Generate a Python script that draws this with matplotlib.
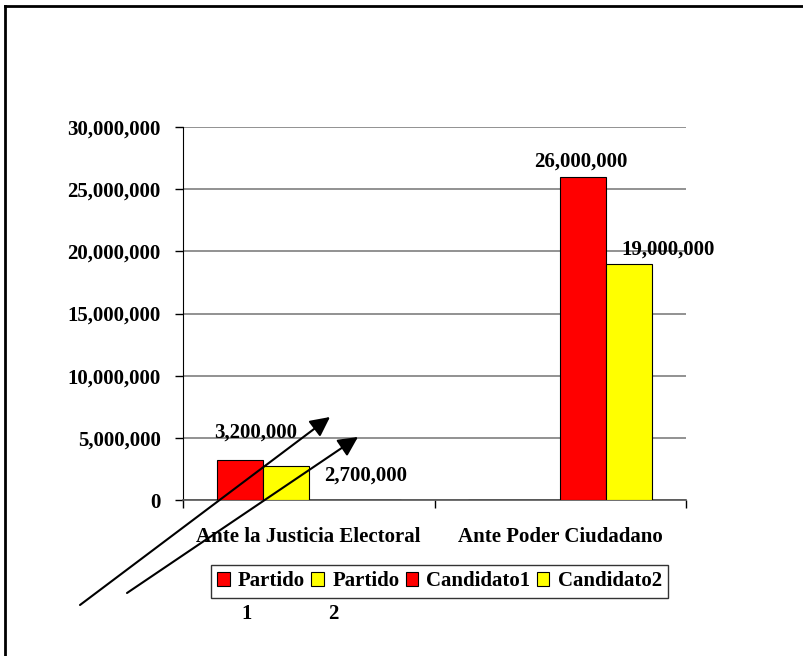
import matplotlib
matplotlib.use("Agg")
import matplotlib.pyplot as plt
from matplotlib.patches import Patch
from matplotlib.lines import Line2D
import numpy as np

categories = ["Ante la Justicia Electoral", "Ante Poder Ciudadano"]
series_names = ["Partido", "Partido", "Candidato1", "Candidato2"]
partido1 = [3200000, 0]
partido2 = [2700000, 0]
candidato1 = [0, 26000000]
candidato2 = [0, 19000000]
series_values = [partido1, partido2, candidato1, candidato2]
series_colors = ["#FF0000", "#FFFF00", "#FF0000", "#FFFF00"]
value_labels = ["3,200,000", "2,700,000", "26,000,000", "19,000,000"]
yticks = [0, 5000000, 10000000, 15000000, 20000000, 25000000, 30000000]

plt.rcParams['font.family'] = ['Liberation Serif', 'DejaVu Serif']
plt.rcParams['font.weight'] = 'bold'
FS = 15

W, H = 804, 656
fig = plt.figure(figsize=(W / 100, H / 100), dpi=100)
ax = fig.add_axes([183 / W, 1 - 500 / H, (686 - 183) / W, (500 - 127) / H])

x = np.arange(len(categories))
w = 0.1833
offsets = [-1.5, -0.5, 0.5, 1.5]
bars = []
for vals, col, off in zip(series_values, series_colors, offsets):
    b = ax.bar(x + off * w, vals, w, color=col, edgecolor="#000000", linewidth=0.8, zorder=3)
    bars.append(b)

ax.set_xlim(-0.5, 1.5)
ax.set_ylim(0, 30000000)
ax.set_yticks(yticks)
ax.set_yticklabels([f"{v:,}" for v in yticks], fontsize=FS, fontweight='bold')
ax.yaxis.grid(True, color="#7f7f7f", linewidth=1.2, zorder=0)
ax.set_axisbelow(True)
ax.tick_params(axis='y', length=6, width=1, pad=10, color="#000000")
ax.set_xticks(x)
ax.set_xticklabels(categories, fontsize=FS, fontweight='bold')
ax.tick_params(axis='x', which='major', length=0, pad=19.5)
ax.set_xticks([-0.5, 0.5, 1.5], minor=True)
ax.tick_params(axis='x', which='minor', length=6, width=1, color="#000000")
for s in ['top', 'right']:
    ax.spines[s].set_visible(False)
ax.spines['left'].set_color("#000000")
ax.spines['bottom'].set_color("#555555")
ax.spines['bottom'].set_linewidth(1.2)

# data labels (offsets in points from bar top)
label_specs = [
    (0, 0, (11.5, 13)),
    (1, 0, (57.5, -14)),
    (2, 1, (-2, 4)),
    (3, 1, (28, 3)),
]
for (si, ci, off), txt in zip(label_specs, value_labels):
    xv = x[ci] + offsets[si] * w
    yv = series_values[si][ci]
    ax.annotate(txt, (xv, yv), xytext=off, textcoords='offset points',
                ha='center', va='bottom', fontsize=FS, fontweight='bold', zorder=5)

# legend
handles = [Patch(facecolor=c, edgecolor="#000000", linewidth=0.8) for c in series_colors]
leg = fig.legend(handles, series_names, loc='upper left',
                 bbox_to_anchor=(211 / W, 1 - 565 / H), ncol=4,
                 prop={'family': 'Liberation Serif', 'weight': 'bold', 'size': FS},
                 frameon=True, fancybox=False, handlelength=0.6, handleheight=0.6,
                 handletextpad=0.4, columnspacing=0.3, borderpad=0.3,
                 borderaxespad=0)
leg.get_frame().set_edgecolor("#000000")
leg.get_frame().set_linewidth(1.0)

fig.text(247 / W, 1 - 614 / H, "1", ha='center', va='center', fontsize=FS, fontweight='bold')
fig.text(333 / W, 1 - 614 / H, "2", ha='center', va='center', fontsize=FS, fontweight='bold')

# arrows
for (x0, y0), (x1, y1) in [((80, 605), (330, 417)), ((127, 593), (358, 437))]:
    fig.add_artist(matplotlib.patches.FancyArrowPatch(
        (x0 / W, 1 - y0 / H), (x1 / W, 1 - y1 / H), transform=fig.transFigure,
        arrowstyle='-|>,head_length=7,head_width=3.5', color='black', linewidth=1.5,
        mutation_scale=1.7, shrinkA=0, shrinkB=0, zorder=10))

# border (top and left)
fig.add_artist(Line2D([5 / W, 5 / W], [0, 1 - 6 / H], transform=fig.transFigure, color='black', linewidth=2))
fig.add_artist(Line2D([5 / W, 1], [1 - 6 / H, 1 - 6 / H], transform=fig.transFigure, color='black', linewidth=2))

fig.savefig("out.png", dpi=100)
